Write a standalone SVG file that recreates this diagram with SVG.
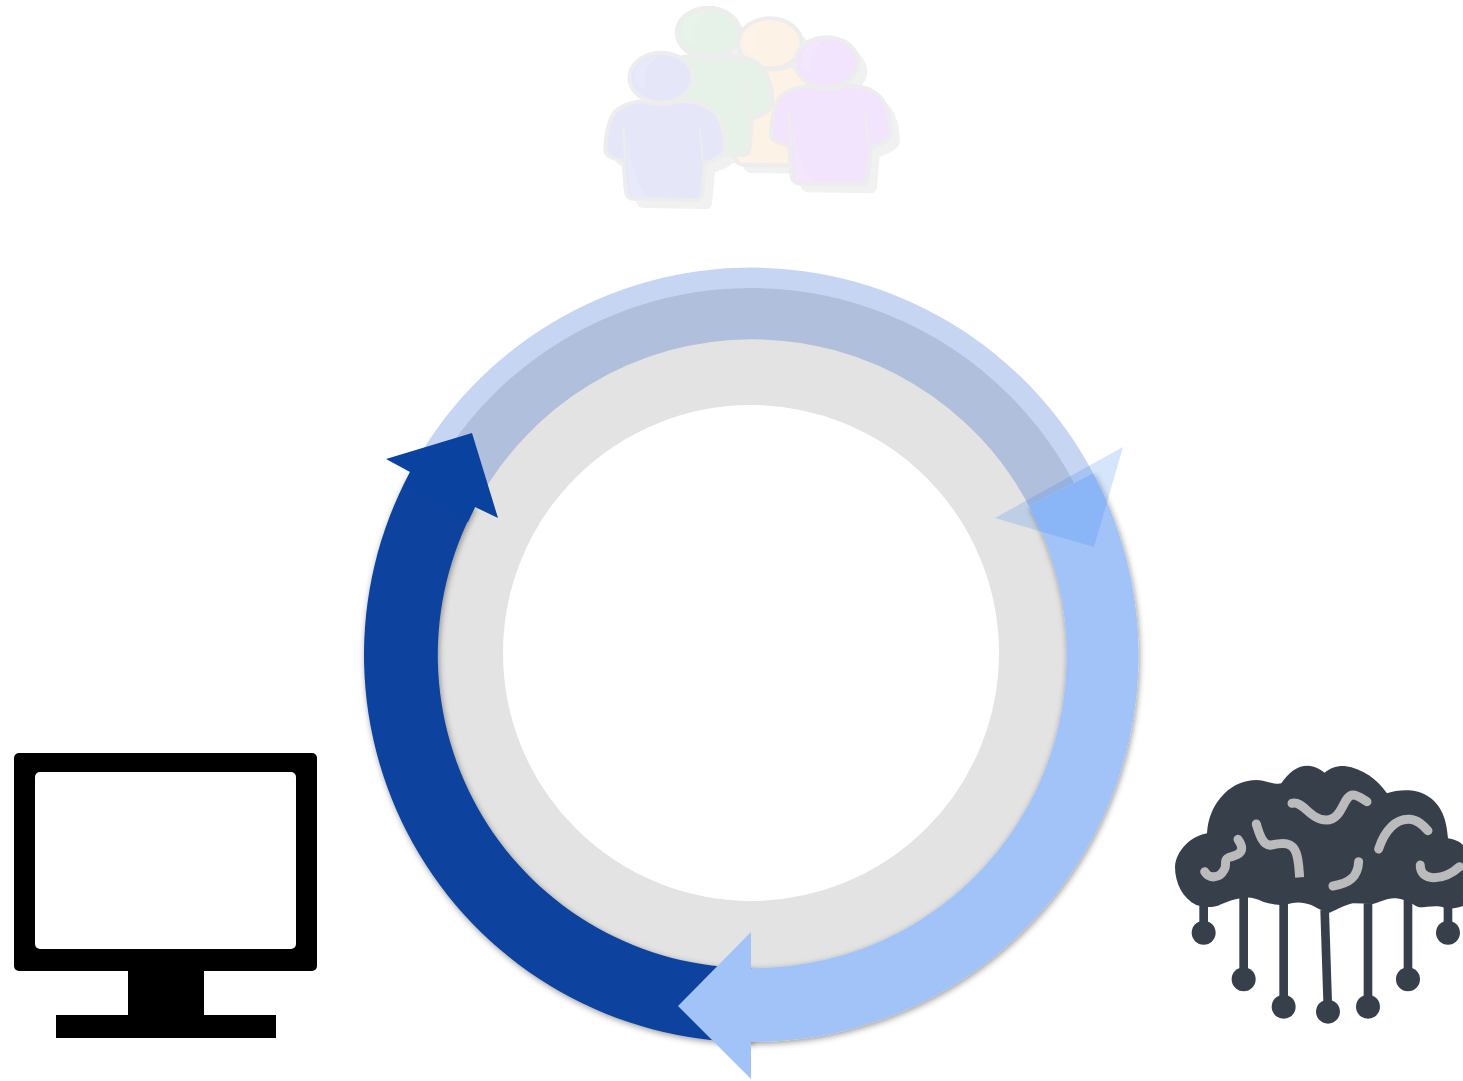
<svg xmlns="http://www.w3.org/2000/svg" width="1463" height="1081" viewBox="0 0 1463 1081">
<style>
.dot{fill:#37404a}
.pb{stroke:#ededed;stroke-width:12;stroke-linejoin:round}
.ln{fill:none;stroke:#ededed;stroke-width:7;stroke-linecap:round}
.hl{fill:#fff;fill-opacity:0.14;stroke:none}
</style>
<defs>
<filter id="shadow" x="-10%" y="-10%" width="120%" height="120%"><feDropShadow dx="1" dy="2" stdDeviation="3" flood-color="#000" flood-opacity="0.4"/></filter>
<filter id="soft" x="-10%" y="-10%" width="120%" height="120%"><feGaussianBlur stdDeviation="0.7"/></filter>
<filter id="softer" x="-10%" y="-10%" width="120%" height="120%"><feGaussianBlur stdDeviation="2"/></filter>
<clipPath id="below-seam"><polygon points="1463,282 1463,1081 300,1081 300,882"/></clipPath>
<path id="pbody" d="M160,303 C110,308 72,325 60,362 C50,395 44,430 47,458 C50,468 80,480 100,484 L108,575 C110,590 120,597 135,597 L320,600 C330,600 335,592 337,580 L345,490 C370,482 398,470 405,450 C407,415 400,378 382,348 C362,318 325,303 270,302 C240,315 190,315 160,303 Z"/>
<g id="person">
<use href="#pbody" class="pb"/>
<ellipse class="pb" cx="213" cy="233" rx="95" ry="75"/>
<path class="ln" d="M100,385 L106,480 M330,390 L338,480"/>
<path class="hl" d="M108,390 L120,590 L175,595 C140,560 115,470 108,390 Z"/>
<path class="hl" d="M135,230 C135,190 170,170 215,165 C170,185 160,220 165,265 C150,260 135,250 135,230 Z"/>
</g>
<g id="pshadow">
<use href="#pbody"/>
<ellipse cx="213" cy="233" rx="95" ry="75"/>
</g>
</defs>

<g id="people" transform="translate(590 0) scale(0.3333)">
<g filter="url(#softer)" fill="#f1f1f1">
<use href="#pshadow" transform="translate(352 -78)"/>
<use href="#pshadow" transform="translate(167 -110)"/>
<use href="#pshadow" transform="translate(30 27)"/>
<use href="#pshadow" transform="translate(524 -20)"/>
</g>
<g filter="url(#soft)">
<use id="person-orange" href="#person" transform="translate(327 -103)" fill="#fdf2e6"/>
<use id="person-green" href="#person" transform="translate(142 -135)" fill="#e6f2e8"/>
<use id="person-blue" href="#person" fill="#e5e6f8"/>
<use id="person-purple" href="#person" transform="translate(497 -46)" fill="#f1e4fc"/>
</g>
</g>

<g id="cycle">
<circle id="ring" cx="751" cy="653" r="306.5" fill="none" stroke="#e3e3e3" stroke-width="117"/>
<path id="arc-top" d="M410,472 A387,387 0 0 1 1093,473 L1029,506 A313,313 0 0 0 475,507 Z" fill="#0a48c8" fill-opacity="0.23"/>
<path id="arc-dark" d="M752,1042 A387,387 0 0 1 410,472 L475,507 A313,313 0 0 0 752,968 Z" fill="#0a439f" filter="url(#shadow)"/>
<g clip-path="url(#below-seam)">
<path id="arc-light" d="M1093,473 A387,387 0 0 1 745,1042 L745,968 A313,313 0 0 0 1029,506 Z" fill="#a2c3f8" filter="url(#shadow)"/>
</g>
<polygon id="head-dark" points="386,459 472,433 498,518 475,507 468,522 404,488 410,472" fill="#0a439f"/>
<polygon id="head-light" points="751,932 751,1079 678,1006" fill="#a2c3f8"/>
<polygon id="head-top" points="1123,447 995,518 1094,547" fill="#2f7bf0" fill-opacity="0.2"/>
</g>

<g id="monitor">
<rect x="14" y="753" width="303" height="218" rx="5" fill="#000"/>
<rect x="35" y="772" width="261" height="177" rx="5" fill="#fff"/>
<rect x="128" y="970" width="76" height="46" fill="#000"/>
<rect x="56" y="1015" width="220" height="23" fill="#000"/>
</g>

<g id="brain-cloud">
<g transform="translate(1163 750) scale(0.3333)">
<path class="dot" d="M100,465 C60,445 36,400 36,350 C40,300 85,258 132,250 C135,205 150,165 185,130 C215,100 260,85 300,92 C320,97 340,104 355,100 C375,70 400,47 435,47 C455,48 472,58 485,68 C500,55 520,47 545,48 C600,55 645,90 672,130 C700,120 735,118 765,125 C815,140 850,180 855,265 C875,268 890,275 900,285 L900,468 C880,475 860,478 840,472 C820,465 790,472 770,472 C755,470 735,448 700,445 C670,443 650,458 630,462 C610,462 590,460 570,460 C545,465 525,478 500,488 C480,485 465,475 445,465 C425,458 405,455 385,460 C350,470 325,462 300,455 C285,448 265,442 250,443 C215,445 190,455 165,467 C145,473 120,472 100,465 Z"/>
<g stroke="#37404a" stroke-width="26" fill="none">
<path d="M122,460 L122,548"/><path d="M242,440 L242,688"/><path d="M362,455 L362,770"/><path d="M485,480 L495,785"/><path d="M615,460 L615,770"/><path d="M735,440 L735,688"/><path d="M855,465 L855,548"/>
</g>
<g class="dot">
<circle cx="122" cy="548" r="36"/><circle cx="242" cy="688" r="36"/><circle cx="362" cy="770" r="36"/><circle cx="495" cy="785" r="36"/><circle cx="615" cy="770" r="36"/><circle cx="735" cy="688" r="36"/><circle cx="855" cy="548" r="36"/>
</g>
<g fill="none" stroke="#bbbbbb" stroke-width="27" stroke-linecap="round" stroke-linejoin="round">
<path d="M125,365 C138,388 170,385 183,360 C195,342 178,330 198,322 C218,318 236,310 236,295 C236,285 230,275 225,268"/>
<path stroke-linecap="butt" d="M280,222 C288,250 300,290 325,285 C360,278 388,275 400,310 C408,335 408,360 410,382"/>
<path d="M387,160 C420,150 440,210 490,210 C540,210 540,135 570,135 C585,135 600,148 612,155"/>
<path d="M647,297 C665,240 700,205 740,208 C765,210 780,225 795,242"/>
<path d="M510,408 C560,400 585,380 587,335"/>
<path d="M772,345 C770,395 840,395 890,350"/>
</g>
<circle cx="280" cy="222" r="13.5" fill="#bbbbbb"/>
</g>
</g>
</svg>
